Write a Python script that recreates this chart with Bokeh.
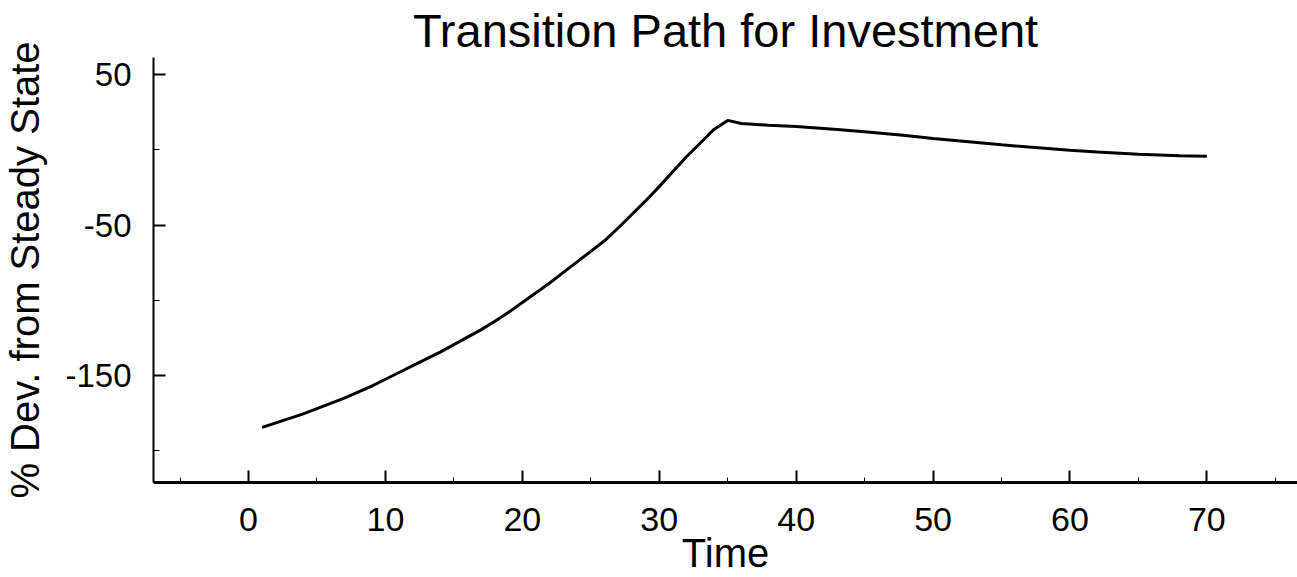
from bokeh.plotting import figure
from bokeh.models import FixedTicker, Range1d, ColumnDataSource
from bokeh.embed import file_html
from bokeh.resources import INLINE

# ---- data ----
time = [1, 2, 3, 4, 5, 6, 7, 8, 9, 10, 11, 12, 13, 14, 15, 16, 17, 18, 19, 20,
        21, 22, 23, 24, 25, 26, 27, 28, 29, 30, 31, 32, 33, 34, 35, 36, 38, 40,
        43, 45, 48, 50, 53, 55, 57, 60, 62, 65, 68, 70]
investment_dev = [-184.5, -181.5, -178.5, -175.5, -172, -168.5, -165, -161,
                  -157, -152.5, -148, -143.5, -139, -134.5, -129.5, -124.5,
                  -119.5, -114, -108, -101.5, -95, -88.5, -81.5, -74.5, -67.5,
                  -60.5, -52, -43, -34, -24.5, -14.5, -4.5, 4.5, 13.5, 19.5,
                  17.5, 16.3, 15.4, 13.5, 12, 9.5, 7.5, 5, 3.3, 1.8, -0.3, -1.5,
                  -3.0, -4.0, -4.3]

x_major_ticks = [0, 10, 20, 30, 40, 50, 60, 70]
x_minor_ticks = [-5, 5, 15, 25, 35, 45, 55, 65, 75]
y_major_ticks = [-150, -50, 50]
y_minor_ticks = [-200, -100, 0]
y_tick_labels = {-150: "-150", -50: "-50", 50: "50"}

title_text = "Transition Path for Investment"
x_label = "Time"
y_label = "% Dev. from Steady State"

FONT = "Liberation Sans"

src = ColumnDataSource(data=dict(t=time, v=investment_dev))

p = figure(width=1297, height=577, output_backend="svg", toolbar_location=None,
           x_range=Range1d(-6.94, 76.62), y_range=Range1d(-221.1, 61.3),
           min_border_left=153, min_border_right=0, min_border_top=57,
           min_border_bottom=95)

p.line("t", "v", source=src, line_color="black", line_width=3)

p.title.text = title_text
p.title.align = "center"
p.title.text_font = FONT
p.title.text_font_size = "47px"
p.title.text_font_style = "normal"
p.title.text_color = "black"
p.title.standoff = 2

p.outline_line_color = None
p.xgrid.grid_line_color = None
p.ygrid.grid_line_color = None
p.background_fill_color = "white"
p.border_fill_color = "white"

# x axis
xa = p.xaxis[0]
xa.ticker = FixedTicker(ticks=x_major_ticks, minor_ticks=x_minor_ticks)
xa.axis_line_width = 3
xa.axis_line_color = "black"
xa.major_tick_in = 12
xa.major_tick_out = 0
xa.minor_tick_in = 5
xa.minor_tick_out = 0
xa.major_tick_line_width = 2
xa.minor_tick_line_width = 1
xa.major_label_text_font = FONT
xa.major_label_text_font_size = "34px"
xa.major_label_text_color = "black"
xa.major_label_standoff = 25
xa.axis_label = x_label
xa.axis_label_text_font = FONT
xa.axis_label_text_font_size = "40px"
xa.axis_label_text_font_style = "normal"
xa.axis_label_text_color = "black"
xa.axis_label_standoff = -3

# y axis
ya = p.yaxis[0]
ya.ticker = FixedTicker(ticks=y_major_ticks, minor_ticks=y_minor_ticks)
ya.major_label_overrides = y_tick_labels
ya.axis_line_width = 2
ya.axis_line_color = "black"
ya.major_tick_in = 12
ya.major_tick_out = 0
ya.minor_tick_in = 6
ya.minor_tick_out = 0
ya.major_tick_line_width = 2
ya.minor_tick_line_width = 1
ya.major_label_text_font = FONT
ya.major_label_text_font_size = "33px"
ya.major_label_text_color = "black"
ya.major_label_standoff = 22
ya.major_label_orientation = "horizontal"
ya.axis_label = y_label
ya.axis_label_text_font = FONT
ya.axis_label_text_font_size = "40px"
ya.axis_label_text_font_style = "normal"
ya.axis_label_text_color = "black"
ya.axis_label_standoff = 15

open("out.html", "w").write(file_html(p, INLINE))
